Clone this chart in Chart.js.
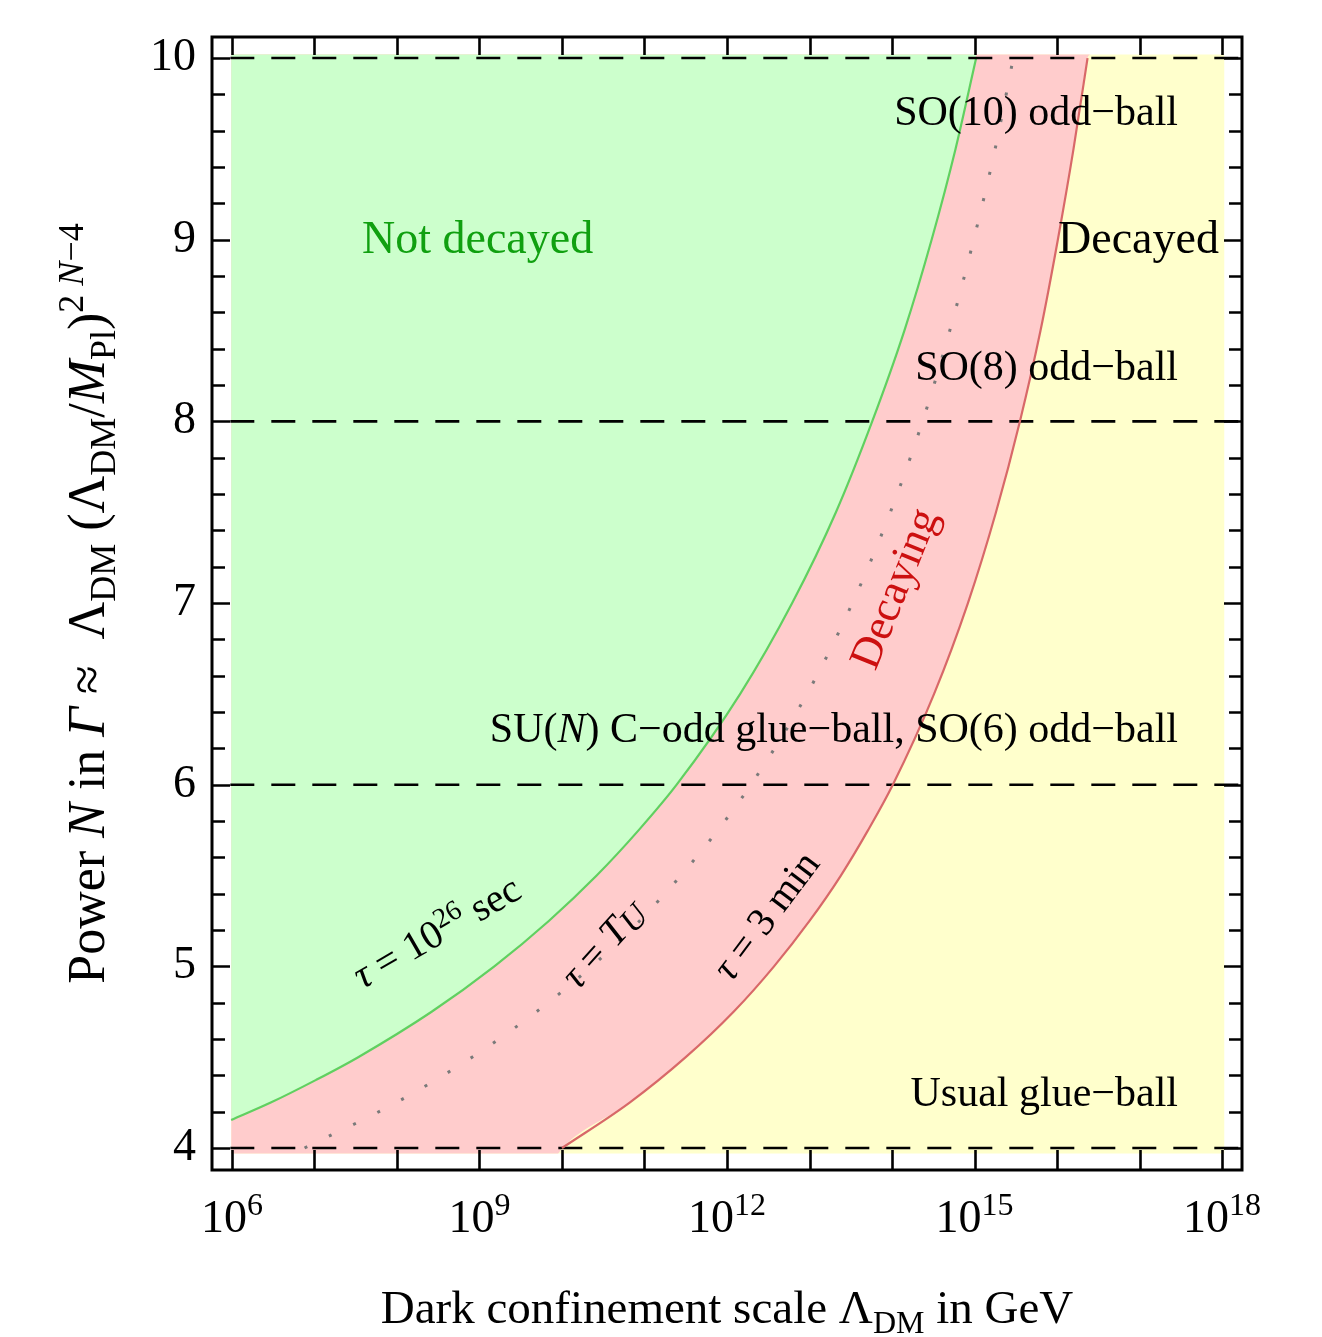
<!DOCTYPE html>
<html>
<head>
<meta charset="utf-8">
<title>Glue-ball decay regions</title>
<script src="https://cdn.jsdelivr.net/npm/chart.js@4.4.1/dist/chart.umd.min.js"></script>
<style>
  html, body { margin: 0; padding: 0; background: #fff; }
  #wrap { width: 1322px; height: 1337px; }
</style>
</head>
<body>
<div id="wrap"><canvas id="chart" width="1322" height="1337"></canvas></div>
<script>
// --- data ---
// power N (vertical axis) at which the tau curves were read
const N_STEPS = [4, 4.25, 4.5, 4.75, 5, 5.25, 5.5, 5.75, 6, 6.5, 7, 7.5, 8, 8.5, 9, 9.5, 10];
// log10(Lambda_DM / GeV) of the tau = 3 min curve (red)
const LOG_L_3MIN = [10.0, 10.82, 11.5, 12.08, 12.57, 13.0, 13.38, 13.71, 14.01, 14.51, 14.92, 15.26, 15.55, 15.80, 16.01, 16.20, 16.37];
// log10(Lambda_DM / GeV) of the tau = T_U curve (dotted)
const LOG_L_TU = [6.88, 7.99, 8.91, 9.69, 10.36, 10.94, 11.44, 11.89, 12.29, 12.97, 13.52, 13.98, 14.37, 14.70, 14.99, 15.25, 15.47];
// tau = 10^26 sec curve (green) starts a little above N = 4 at the left edge
const N_1026 = [4.154, 4.25, 4.375, 4.5, 4.75, 5, 5.25, 5.5, 5.75, 6, 6.5, 7, 7.5, 8, 8.5, 9, 9.5, 10];
const LOG_L_1026 = [5.99, 6.47, 7.02, 7.53, 8.42, 9.18, 9.84, 10.42, 10.93, 11.39, 12.16, 12.79, 13.32, 13.76, 14.15, 14.48, 14.77, 15.02];

// dashed horizontal lines (N of the different glue-balls)
const DASHED_N = [4, 6, 8, 10];
// x axis: decades with labels, and every decade gets a tick
const X_LABEL_EXP = [6, 9, 12, 15, 18];
const X_TICK_EXP = [6, 7, 8, 9, 10, 11, 12, 13, 14, 15, 16, 17, 18];

// axis ranges and shaded box
const X_MIN = 5.758, X_MAX = 18.242;
const Y_MIN = 3.879, Y_MAX = 10.116;
const BOX = { left: 5.99, right: 18.03, bottom: 3.97, top: 10.02 };

// --- colours ---
const GREEN_FILL = '#ccffcc';
const PINK_FILL = '#ffcccc';
const YELLOW_FILL = '#ffffcc';
const GREEN_LINE = '#60d060';
const RED_LINE = '#d86868';
const SERIF = '"Liberation Serif", "Times New Roman", serif';

function pts(xs, ys) {
    return xs.map((x, i) => ({ x: x, y: ys[i] }));
}

// area left of the red curve (pink), closed along the bottom
const pinkEdge = [{ x: BOX.left, y: BOX.bottom }, { x: LOG_L_3MIN[0] - 0.05, y: BOX.bottom }]
    .concat(pts(LOG_L_3MIN, N_STEPS))
    .concat([{ x: LOG_L_3MIN[LOG_L_3MIN.length - 1] + 0.03, y: BOX.top }]);

const datasets = [
    {   // yellow background: everything that has decayed
        data: [{ x: BOX.left, y: BOX.bottom }, { x: BOX.right, y: BOX.bottom }],
        borderWidth: 0, backgroundColor: YELLOW_FILL, fill: { value: BOX.top }, order: 10
    },
    {   // pink band: decaying
        data: pinkEdge, borderWidth: 0, backgroundColor: PINK_FILL,
        fill: { value: BOX.top }, cubicInterpolationMode: 'monotone', order: 9
    },
    {   // green region + tau = 10^26 s line
        data: pts(LOG_L_1026, N_1026), borderColor: GREEN_LINE, borderWidth: 2.2,
        backgroundColor: GREEN_FILL, fill: { value: BOX.top }, cubicInterpolationMode: 'monotone', order: 8
    },
    {   // tau = T_U dotted line
        data: pts(LOG_L_TU, N_STEPS), borderColor: '#7a7a7a', borderWidth: 3,
        borderDash: [3, 24], fill: false, cubicInterpolationMode: 'monotone', order: 3
    },
    {   // tau = 3 min red line
        data: pts(LOG_L_3MIN, N_STEPS), borderColor: RED_LINE, borderWidth: 2.2,
        fill: false, cubicInterpolationMode: 'monotone', order: 2
    }
];
DASHED_N.forEach(n => {
    datasets.push({
        data: [{ x: 5.98, y: n }, { x: 18.3, y: n }], borderColor: '#000', borderWidth: 2.6,
        borderDash: [24, 17], fill: false, order: 5
    });
});

// --- text helpers ---
function fontOf(p) {
    return (p.italic ? 'italic ' : '') + p.size + 'px ' + SERIF;
}

// draws a run of text pieces (for sub/superscripts), optionally rotated
function richText(ctx, parts, x, y, opts) {
    const o = Object.assign({ angle: 0, align: 'left', color: '#000', lift: 0 }, opts);
    ctx.save();
    ctx.translate(x, y);
    ctx.rotate(o.angle * Math.PI / 180);
    let w = 0;
    parts.forEach(p => { ctx.font = fontOf(p); p.w = ctx.measureText(p.t).width; w += p.w; });
    let cx = o.align === 'center' ? -w / 2 : (o.align === 'right' ? -w : 0);
    ctx.textAlign = 'left';
    ctx.textBaseline = 'alphabetic';
    parts.forEach(p => {
        ctx.font = fontOf(p);
        ctx.fillStyle = p.color || o.color;
        ctx.fillText(p.t, cx, (p.dy || 0) + o.lift);
        cx += p.w;
    });
    ctx.restore();
}

const T = 46;   // main text size
const S = 32;   // sub/superscript size
const L = 42;   // in-plot label size
const YT = 52, YS = 36;  // y title sizes

const framePlugin = {
    id: 'framePlugin',
    afterDatasetsDraw(chart) {
        const ctx = chart.ctx;
        const a = chart.chartArea;
        const xs = chart.scales.x, ys = chart.scales.y;
        ctx.save();
        ctx.strokeStyle = '#000';
        ctx.lineWidth = 2.6;
        ctx.beginPath();
        X_TICK_EXP.forEach(v => {
            const px = Math.round(xs.getPixelForValue(v)) + 0.5;
            ctx.moveTo(px, a.top); ctx.lineTo(px, a.top + 18);
            ctx.moveTo(px, a.bottom); ctx.lineTo(px, a.bottom - 20);
        });
        for (let k = 0; k <= 30; k++) {
            const v = 4 + k * 0.2;
            const len = (k % 5 === 0) ? 18 : 13;
            const py = Math.round(ys.getPixelForValue(v)) + 0.5;
            ctx.moveTo(a.left, py); ctx.lineTo(a.left + len, py);
            ctx.moveTo(a.right, py); ctx.lineTo(a.right - len, py);
        }
        ctx.stroke();
        ctx.lineWidth = 3;
        ctx.strokeRect(a.left, a.top, a.right - a.left, a.bottom - a.top);
        ctx.restore();

        // x tick labels 10^n
        X_LABEL_EXP.forEach(e => {
            richText(ctx, [{ t: '10', size: T }, { t: String(e), size: S, dy: -17 }],
                xs.getPixelForValue(e), 1232, { align: 'center' });
        });

        // axis titles
        richText(ctx, [
            { t: 'Dark confinement scale ', size: 47 },
            { t: '\u039B', size: 47 },
            { t: 'DM', size: S, dy: 10 },
            { t: ' in GeV', size: 47 }
        ], (a.left + a.right) / 2, 1323, { align: 'center' });

        richText(ctx, [
            { t: 'Power ', size: YT }, { t: 'N', size: YT, italic: true }, { t: ' in ', size: YT },
            { t: '\u0393', size: YT, italic: true }, { t: ' \u2248  ', size: YT },
            { t: '\u039B', size: YT }, { t: 'DM', size: YS, dy: 11 },
            { t: ' (', size: YT }, { t: '\u039B', size: YT }, { t: 'DM', size: YS, dy: 11 },
            { t: '/', size: YT }, { t: 'M', size: YT, italic: true }, { t: 'Pl', size: YS, dy: 11 },
            { t: ')', size: YT }, { t: '2 ', size: YS, dy: -21 }, { t: 'N', size: YS, dy: -21, italic: true },
            { t: '\u22124', size: YS, dy: -21 }
        ], 104, (a.top + a.bottom) / 2, { angle: -90, align: 'center' });

        // region labels
        richText(ctx, [{ t: 'Not decayed', size: T }], 362, 253, { color: '#10a010' });
        richText(ctx, [{ t: 'Decayed', size: T }], 1058, 253);
        richText(ctx, [{ t: 'SO(10) odd\u2212ball', size: L }], 1178, 125, { align: 'right' });
        richText(ctx, [{ t: 'SO(8) odd\u2212ball', size: L }], 1178, 380, { align: 'right' });
        richText(ctx, [
            { t: 'SU(', size: L }, { t: 'N', size: L, italic: true },
            { t: ') C\u2212odd glue\u2212ball, SO(6) odd\u2212ball', size: L }
        ], 1178, 742, { align: 'right' });
        richText(ctx, [{ t: 'Usual glue\u2212ball', size: L }], 1178, 1106, { align: 'right' });

        richText(ctx, [{ t: 'Decaying', size: 44 }], 893, 588,
            { angle: -68, align: 'center', color: '#cc1010', lift: 15 });
        richText(ctx, [
            { t: '\u03C4', size: 40, italic: true }, { t: ' = 10', size: 40 },
            { t: '26', size: 28, dy: -14 }, { t: ' sec', size: 40 }
        ], 436, 931, { angle: -30, align: 'center', lift: 14 });
        richText(ctx, [
            { t: '\u03C4', size: 40, italic: true }, { t: ' = ', size: 40 },
            { t: 'T', size: 40, italic: true }, { t: 'U', size: 34, italic: true, dy: 4 }
        ], 602, 943, { angle: -48, align: 'center', lift: 14 });
        richText(ctx, [
            { t: '\u03C4', size: 40, italic: true }, { t: ' = 3 min', size: 40 }
        ], 765, 915, { angle: -53, align: 'center', lift: 14 });
    }
};

new Chart(document.getElementById('chart'), {
    type: 'line',
    data: { datasets: datasets },
    options: {
        responsive: false,
        animation: false,
        devicePixelRatio: 1,
        layout: { padding: { left: 0, right: 80, top: 37, bottom: 167 } },
        elements: { point: { radius: 0, hoverRadius: 0 }, line: { tension: 0 } },
        plugins: { legend: { display: false }, tooltip: { enabled: false } },
        scales: {
            x: { type: 'linear', min: X_MIN, max: X_MAX, display: false },
            y: {
                type: 'linear', min: Y_MIN, max: Y_MAX,
                grid: { display: false, drawTicks: false },
                border: { display: false },
                ticks: {
                    stepSize: 1, includeBounds: false, padding: 16, color: '#000',
                    font: { family: SERIF, size: 46 }
                },
                afterFit(scale) {
                    scale.width = 212;
                    scale.paddingTop = 0;
                    scale.paddingBottom = 0;
                }
            }
        }
    },
    plugins: [framePlugin]
});
</script>
</body>
</html>
